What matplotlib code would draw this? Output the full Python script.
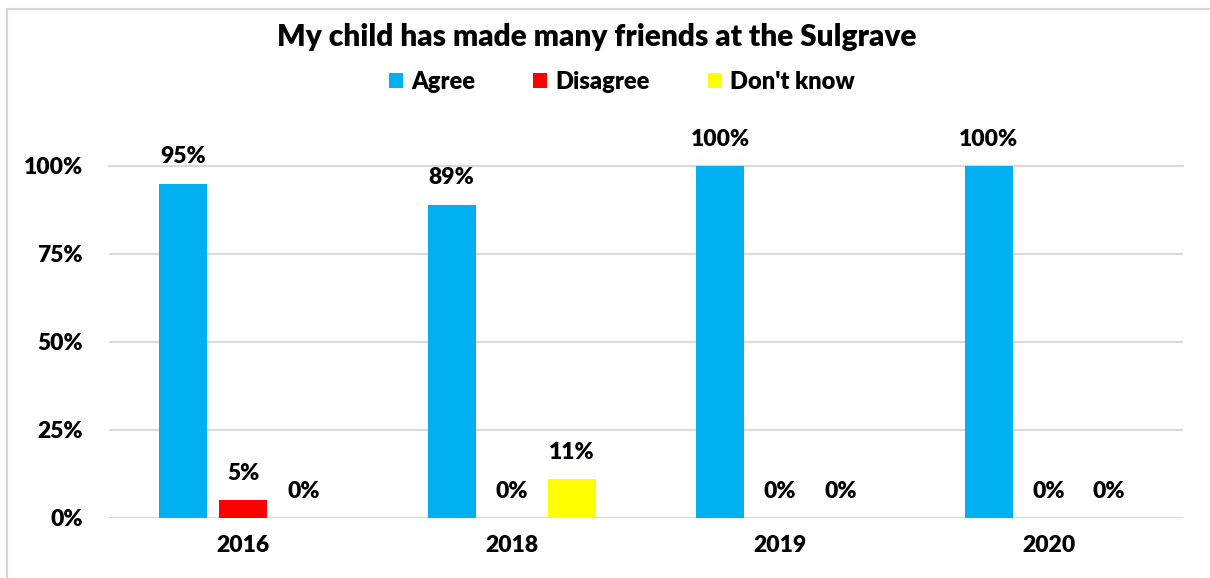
import matplotlib
matplotlib.use("Agg")
import matplotlib.pyplot as plt
import numpy as np
from matplotlib.lines import Line2D

years = ["2016", "2018", "2019", "2020"]
series_names = ["Agree", "Disagree", "Don't know"]
agree = [0.95, 0.89, 1.00, 1.00]
disagree = [0.05, 0.00, 0.00, 0.00]
dont_know = [0.00, 0.11, 0.00, 0.00]
colors = ["#00B0F0", "#FF0000", "#FFFF00"]
title = "My child has made many friends at the Sulgrave"
yticks = [0, 0.25, 0.5, 0.75, 1.0]
ytick_labels = ["0%", "25%", "50%", "75%", "100%"]

plt.rcParams['font.family'] = ['Lato', 'DejaVu Sans']
WT = 'heavy'
LS = 16.5

W, H = 1210, 578
fig = plt.figure(figsize=(W / 100, H / 100), dpi=100)
ax = fig.add_axes([109 / W, (H - 518) / H, 1074 / W, 352 / H])

x = np.arange(len(years))
bw = 0.179
off = 0.2235
all_series = [agree, disagree, dont_know]
handles = []
for i, (vals, c, name) in enumerate(zip(all_series, colors, series_names)):
    pos = x + (i - 1) * off
    bars = ax.bar(pos, vals, width=bw, color=c, label=name, zorder=3)
    handles.append(bars)
    for px, v in zip(pos, vals):
        ax.annotate(f"{round(v * 100):d}%", (px, v), xytext=(0, 27),
                    textcoords='offset pixels', ha='center', va='center',
                    fontsize=LS, fontweight=WT, annotation_clip=False)

ax.set_xlim(-0.5, len(years) - 0.5)
ax.set_ylim(0, 1.0)
ax.set_yticks(yticks)
ax.set_yticklabels(ytick_labels)
ax.set_xticks(x)
ax.set_xticklabels(years)
ax.tick_params(axis='both', length=0, labelsize=LS)
ax.tick_params(axis='y', pad=19)
ax.tick_params(axis='x', pad=12)
for lab in ax.get_xticklabels() + ax.get_yticklabels():
    lab.set_fontweight(WT)
for s in ax.spines.values():
    s.set_visible(False)
ax.grid(axis='y', color='#D9D9D9', linewidth=1.5, zorder=0)
ax.set_axisbelow(True)
ax.axhline(1.0, color='#D9D9D9', linewidth=1.5, zorder=0, clip_on=False)

fig.text(597 / W, 1 - 37 / H, title, ha='center', va='center',
         fontsize=21.5, fontweight=WT)

fig.legend(handles=handles, labels=series_names, loc='center',
           bbox_to_anchor=(622 / W, 1 - 82 / H), ncol=3, frameon=False,
           handlelength=0.6, handleheight=0.6, handletextpad=0.35,
           columnspacing=2.45, prop={'size': 17, 'weight': WT})

fig.add_artist(Line2D([7 / W, 1], [1 - 9 / H, 1 - 9 / H], transform=fig.transFigure,
                      color='#D9D9D9', linewidth=1.5))
fig.add_artist(Line2D([7 / W, 7 / W], [0, 1 - 9 / H], transform=fig.transFigure,
                      color='#D9D9D9', linewidth=1.5))

fig.savefig("out.png", dpi=100)
